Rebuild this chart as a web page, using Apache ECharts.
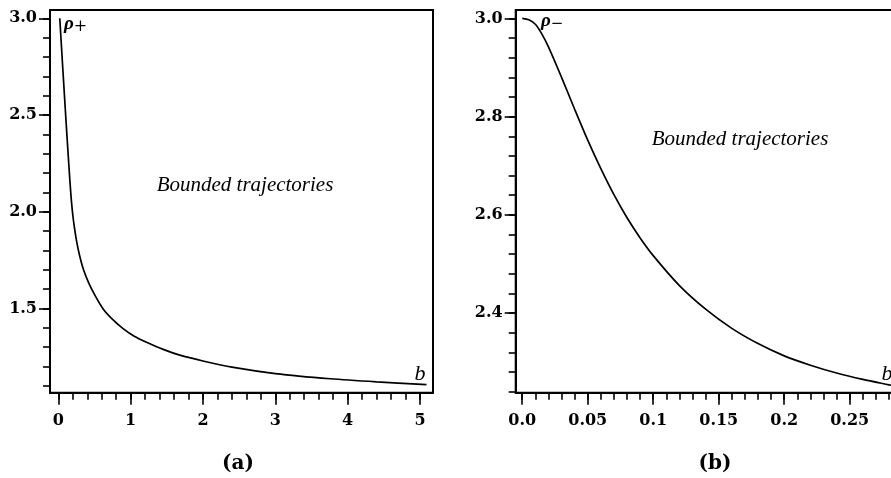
<!DOCTYPE html>
<html>
<head>
<meta charset="utf-8">
<script src="https://cdn.jsdelivr.net/npm/echarts@6/dist/echarts.min.js"></script>
<style>
html,body{margin:0;padding:0;background:#fff;}
#chart{width:891px;height:478px;}
</style>
</head>
<body>
<div id="chart"></div>
<script>
// Panel (a): rho_plus vs b
const bPlus   = [0.02, 0.06, 0.10, 0.13, 0.16, 0.18, 0.20, 0.22, 0.25, 0.29, 0.35, 0.42, 0.50, 0.62, 0.75, 0.90, 1.05, 1.22, 1.45, 1.68, 2.0, 2.4, 3.0, 3.76, 4.4, 5.09];
const rhoPlus = [3.00, 2.752, 2.508, 2.33, 2.16, 2.06, 1.983, 1.925, 1.853, 1.78, 1.698, 1.632, 1.572, 1.497, 1.443, 1.394, 1.356, 1.325, 1.288, 1.258, 1.228, 1.196, 1.163, 1.136, 1.120, 1.106];
// Panel (b): rho_minus vs b
const bMinus   = [0.0, 0.005, 0.01, 0.015, 0.02, 0.03, 0.04, 0.05, 0.06, 0.07, 0.08, 0.09, 0.10, 0.12, 0.14, 0.16, 0.18, 0.20, 0.22, 0.24, 0.26, 0.28, 0.2874];
const rhoMinus = [3.0, 2.997, 2.988, 2.968, 2.942, 2.880, 2.815, 2.752, 2.694, 2.641, 2.594, 2.553, 2.517, 2.456, 2.408, 2.369, 2.338, 2.313, 2.294, 2.278, 2.265, 2.254, 2.250];

// Tick values and labels
const xMajorA = [0, 1, 2, 3, 4, 5];
const xLabelsA = ['0', '1', '2', '3', '4', '5'];
const xMinorA = [0, 0.2, 0.4, 0.6, 0.8, 1, 1.2, 1.4, 1.6, 1.8, 2, 2.2, 2.4, 2.6, 2.8, 3, 3.2, 3.4, 3.6, 3.8, 4, 4.2, 4.4, 4.6, 4.8, 5];
const yMajorA = [1.5, 2.0, 2.5, 3.0];
const yLabelsA = ['1.5', '2.0', '2.5', '3.0'];
const yMinorA = [1.1, 1.2, 1.3, 1.4, 1.5, 1.6, 1.7, 1.8, 1.9, 2.0, 2.1, 2.2, 2.3, 2.4, 2.5, 2.6, 2.7, 2.8, 2.9, 3.0];

const xMajorB = [0, 0.05, 0.1, 0.15, 0.2, 0.25];
const xLabelsB = ['0.0', '0.05', '0.1', '0.15', '0.2', '0.25'];
const xMinorB = [0, 0.01, 0.02, 0.03, 0.04, 0.05, 0.06, 0.07, 0.08, 0.09, 0.1, 0.11, 0.12, 0.13, 0.14, 0.15, 0.16, 0.17, 0.18, 0.19, 0.2, 0.21, 0.22, 0.23, 0.24, 0.25, 0.26, 0.27, 0.28];
const yMajorB = [2.4, 2.6, 2.8, 3.0];
const yLabelsB = ['2.4', '2.6', '2.8', '3.0'];
const yMinorB = [2.24, 2.28, 2.32, 2.36, 2.4, 2.44, 2.48, 2.52, 2.56, 2.6, 2.64, 2.68, 2.72, 2.76, 2.8, 2.84, 2.88, 2.92, 2.96, 3.0];

const TICKFONT = '"DejaVu Serif", "Liberation Serif", serif';

function lookup(vals, labels) {
  return function (v) {
    for (let i = 0; i < vals.length; i++) if (Math.abs(vals[i] - v) < 1e-9) return labels[i];
    return '';
  };
}

function xAxes(grid, min, max, major, labels, minor) {
  return [
    {
      type: 'value', gridIndex: grid, position: 'bottom', min: min, max: max,
      splitLine: { show: false },
      axisLine: { show: true, onZero: false, lineStyle: { color: '#000', width: 2 } },
      axisTick: { show: true, customValues: major, length: 12, lineStyle: { color: '#000', width: 1.6 } },
      axisLabel: { show: true, customValues: major, formatter: lookup(major, labels), margin: 20,
        color: '#000', fontFamily: TICKFONT, fontWeight: 'bold', fontSize: 16 }
    },
    {
      type: 'value', gridIndex: grid, position: 'bottom', min: min, max: max,
      splitLine: { show: false },
      axisLine: { show: false, onZero: false },
      axisTick: { show: true, customValues: minor, length: 7, lineStyle: { color: '#000', width: 1.6 } },
      axisLabel: { show: false }
    }
  ];
}
function yAxes(grid, min, max, major, labels, minor) {
  return [
    {
      type: 'value', gridIndex: grid, position: 'left', min: min, max: max,
      splitLine: { show: false },
      axisLine: { show: true, onZero: false, lineStyle: { color: '#000', width: 2 } },
      axisTick: { show: true, customValues: major, length: 11, lineStyle: { color: '#000', width: 1.6 } },
      axisLabel: { show: true, customValues: major, formatter: lookup(major, labels), margin: 13,
        color: '#000', fontFamily: TICKFONT, fontWeight: 'bold', fontSize: 16 }
    },
    {
      type: 'value', gridIndex: grid, position: 'left', min: min, max: max,
      splitLine: { show: false },
      axisLine: { show: false, onZero: false },
      axisTick: { show: true, customValues: minor, length: 7, lineStyle: { color: '#000', width: 1.6 } },
      axisLabel: { show: false }
    }
  ];
}

const chart = echarts.init(document.getElementById('chart'), null, { renderer: 'canvas' });

const ITALIC = '"Liberation Serif", "Times New Roman", serif';

chart.setOption({
  animation: false,
  backgroundColor: '#fff',
  grid: [
    { left: 50, top: 10, width: 383, height: 382.7, show: true, borderColor: '#000', borderWidth: 2,
      backgroundColor: 'transparent', containLabel: false, outerBoundsMode: 'none' },
    { left: 515.7, top: 10, width: 383, height: 382.7, show: true, borderColor: '#000', borderWidth: 2,
      backgroundColor: 'transparent', containLabel: false, outerBoundsMode: 'none' }
  ],
  xAxis: [].concat(
    xAxes(0, -0.115, 5.18, xMajorA, xLabelsA, xMinorA),
    xAxes(1, -0.005, 0.2874, xMajorB, xLabelsB, xMinorB)
  ),
  yAxis: [].concat(
    yAxes(0, 1.064, 3.043, yMajorA, yLabelsA, yMinorA),
    yAxes(1, 2.238, 3.017, yMajorB, yLabelsB, yMinorB)
  ),
  series: [
    {
      type: 'line', xAxisIndex: 0, yAxisIndex: 0, smooth: 0.3, showSymbol: false, symbol: 'none',
      lineStyle: { color: '#000', width: 1.7 },
      data: bPlus.map((b, i) => [b, rhoPlus[i]])
    },
    {
      type: 'line', xAxisIndex: 2, yAxisIndex: 2, smooth: 0.3, showSymbol: false, symbol: 'none',
      lineStyle: { color: '#000', width: 1.7 },
      data: bMinus.map((b, i) => [b, rhoMinus[i]])
    }
  ],
  graphic: [
    { type: 'text', x: 245, y: 185, style: { text: 'Bounded trajectories', font: 'italic 21px ' + ITALIC, fill: '#000', textAlign: 'center', textVerticalAlign: 'middle' } },
    { type: 'text', x: 740, y: 139, style: { text: 'Bounded trajectories', font: 'italic 21px ' + ITALIC, fill: '#000', textAlign: 'center', textVerticalAlign: 'middle' } },
    { type: 'text', x: 64, y: 13, style: { text: '{r|ρ}{s|+}', rich: {
        r: { font: 'italic bold 19px ' + ITALIC, fill: '#000' },
        s: { font: '16px "DejaVu Serif", serif', fill: '#000', padding: [6, 0, 0, 0] } } } },
    { type: 'text', x: 541, y: 11, style: { text: '{r|ρ}{s|−}', rich: {
        r: { font: 'italic bold 19px ' + ITALIC, fill: '#000' },
        s: { font: '15px "DejaVu Serif", serif', fill: '#000', padding: [6, 0, 0, 0] } } } },
    { type: 'text', x: 420, y: 374, style: { text: 'b', font: 'italic 22px ' + ITALIC, fill: '#000', textAlign: 'center', textVerticalAlign: 'middle' } },
    { type: 'text', x: 887, y: 374, style: { text: 'b', font: 'italic 22px ' + ITALIC, fill: '#000', textAlign: 'center', textVerticalAlign: 'middle' } },
    { type: 'text', x: 238, y: 464, style: { text: '(a)', font: 'bold 20px "DejaVu Serif", serif', fill: '#000', textAlign: 'center', textVerticalAlign: 'middle' } },
    { type: 'text', x: 715, y: 464, style: { text: '(b)', font: 'bold 20px "DejaVu Serif", serif', fill: '#000', textAlign: 'center', textVerticalAlign: 'middle' } }
  ]
});
</script>
</body>
</html>
